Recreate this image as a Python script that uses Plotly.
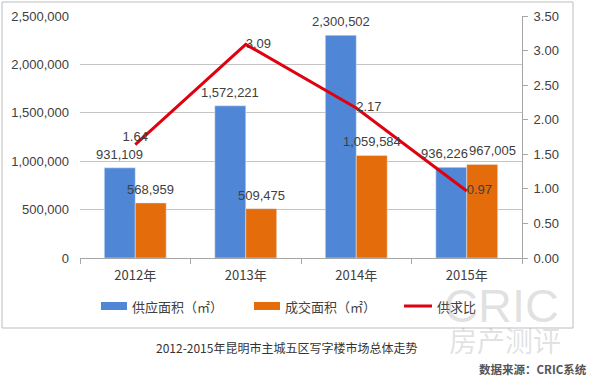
import plotly.graph_objects as go

years = ["2012年", "2013年", "2014年", "2015年"]
supply = [931109, 1572221, 2300502, 936226]
deals = [568959, 509475, 1059584, 967005]
ratio = [1.64, 3.09, 2.17, 0.97]
left_ticks = [0, 500000, 1000000, 1500000, 2000000, 2500000]
right_ticks = [0, 0.5, 1.0, 1.5, 2.0, 2.5, 3.0, 3.5]
series_names = ["供应面积（㎡）", "成交面积（㎡）", "供求比"]

W, H = 593, 386
L, R, T, B = 80, 522, 16, 258
pw, ph = R - L, B - T


def px(x):
    return (x - L) / pw


def py(y):
    return (B - y) / ph


FONT = "Liberation Sans, Arial, Noto Sans CJK SC, sans-serif"
CJK = "Noto Sans CJK SC, Liberation Sans, sans-serif"
TXT = "#404040"
BLUE, ORANGE, RED = "#4f86d6", "#e46c0a", "#e0000f"

fig = go.Figure()
fig.add_trace(go.Bar(x=years, y=supply, name=series_names[0], marker_color=BLUE))
fig.add_trace(go.Bar(x=years, y=deals, name=series_names[1], marker_color=ORANGE))
fig.add_trace(go.Scatter(
    x=years, y=ratio, name=series_names[2], mode="lines+text", yaxis="y2",
    line=dict(color=RED, width=3),
    text=[f"{v:.2f}" for v in ratio],
    textposition=["top center", "middle right", "middle right", "middle right"],
    textfont=dict(size=13, color=TXT, family=FONT), cliponaxis=False,
))

# bar value labels (positioned over each bar through the axes)
bar_half = 15.5
extra_blue = [0, 0, 0, -7]
extra_orange = [0, 0, 0, 10]
for i, yr in enumerate(years):
    fig.add_annotation(x=yr, y=supply[i], text=f"{supply[i]:,}", showarrow=False,
                       xshift=-bar_half + extra_blue[i], yshift=4,
                       xanchor="center", yanchor="bottom",
                       font=dict(size=13, color=TXT, family=FONT))
    fig.add_annotation(x=yr, y=deals[i], text=f"{deals[i]:,}", showarrow=False,
                       xshift=bar_half + extra_orange[i], yshift=4,
                       xanchor="center", yanchor="bottom",
                       font=dict(size=13, color=TXT, family=FONT))

fig.update_layout(
    width=W, height=H,
    margin=dict(l=L, r=W - R, t=T, b=H - B, autoexpand=False),
    paper_bgcolor="white", plot_bgcolor="white",
    barmode="group", bargap=0.44, bargroupgap=0,
    font=dict(family=FONT, size=13, color=TXT),
    showlegend=False, hovermode=False,
    xaxis=dict(
        type="category", showgrid=False, showline=True, linecolor="#a6a6a6",
        ticks="outside", tickson="boundaries", ticklen=5, tickcolor="#a6a6a6",
        ticklabelstandoff=5,
        tickfont=dict(family=CJK, size=13, color=TXT), automargin=False,
    ),
    yaxis=dict(
        range=[0, 2500000], tickvals=left_ticks, tickformat=",",
        showgrid=True, gridcolor="#c4c4c4", gridwidth=1, zeroline=False,
        showline=False, ticks="", ticklabelstandoff=10, automargin=False,
        tickfont=dict(size=13, color=TXT),
    ),
    yaxis2=dict(
        overlaying="y", side="right", range=[0, 3.5], tickvals=right_ticks,
        tickformat=".2f", showgrid=False, zeroline=False, showline=True,
        linecolor="#a6a6a6", ticks="outside", ticklen=5, tickcolor="#a6a6a6",
        ticklabelstandoff=3,
        tickfont=dict(size=13, color=TXT), automargin=False,
    ),
)

# outer frame
fig.add_shape(type="rect", xref="paper", yref="paper",
              x0=px(2), x1=px(573), y0=py(328), y1=py(2),
              line=dict(color="#bdbdbd", width=1), layer="below")

# legend (drawn manually to match the wide flat swatches)
leg_y = 306
swatches = [(101, 127, BLUE, "rect"), (254, 280, ORANGE, "rect"), (404, 432, RED, "line")]
for (x0, x1, col, kind), name in zip(swatches, series_names):
    if kind == "rect":
        fig.add_shape(type="rect", xref="paper", yref="paper",
                      x0=px(x0), x1=px(x1), y0=py(leg_y + 4), y1=py(leg_y - 4),
                      fillcolor=col, line=dict(width=0))
    else:
        fig.add_shape(type="line", xref="paper", yref="paper",
                      x0=px(x0), x1=px(x1), y0=py(leg_y), y1=py(leg_y),
                      line=dict(color=col, width=3))
    fig.add_annotation(text=name, xref="paper", yref="paper", x=px(x1 + 3), y=py(leg_y),
                       xanchor="left", yanchor="middle", showarrow=False,
                       font=dict(family=CJK, size=13, color=TXT))

# watermark
fig.add_annotation(text="CRIC", xref="paper", yref="paper", x=px(501), y=py(305),
                   xanchor="center", yanchor="middle", showarrow=False,
                   font=dict(family="Liberation Sans, Arial", size=47, color="rgba(150,150,150,0.28)"))
fig.add_annotation(text="房产测评", xref="paper", yref="paper", x=px(505), y=py(340),
                   xanchor="center", yanchor="middle", showarrow=False,
                   font=dict(family=CJK, size=28, color="rgba(150,150,150,0.28)"))

fig.add_annotation(text="2012-2015年昆明市主城五区写字楼市场总体走势",
                   xref="paper", yref="paper", x=px(286), y=py(347),
                   xanchor="center", yanchor="middle",
                   showarrow=False, font=dict(family=CJK, size=12, color="#333333"))
fig.add_annotation(text="<b>数据来源：CRIC系统</b>",
                   xref="paper", yref="paper", x=px(589), y=py(369),
                   xanchor="right", yanchor="middle", showarrow=False,
                   font=dict(family=CJK, size=11.5, color="#555555"))

fig.write_html("out.html", config={"displayModeBar": False, "staticPlot": True},
               post_script="document.body.style.margin='0';")
